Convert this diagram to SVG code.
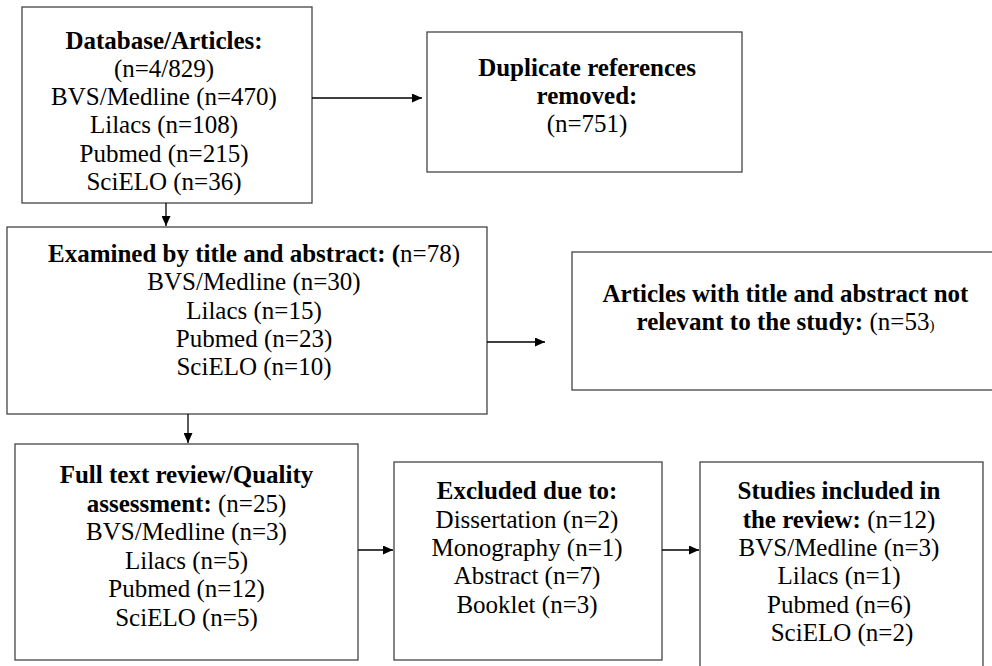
<svg xmlns="http://www.w3.org/2000/svg" width="992" height="666" viewBox="0 0 992 666">
<defs>
<marker id="ah" markerUnits="userSpaceOnUse" markerWidth="10" markerHeight="9" refX="10" refY="4.5" orient="auto">
<path d="M0,0 L10,4.5 L0,9 z" fill="#000"/>
</marker>
<style>
.box{fill:#fff;stroke:#444;stroke-width:1.3}
text{font-family:"Liberation Serif","Times New Roman","DejaVu Serif",serif;font-size:25px;fill:#000;text-anchor:middle}
.b{font-weight:bold}
.c{stroke:#000;stroke-width:1.3;fill:none;marker-end:url(#ah)}
</style>
</defs>
<rect width="992" height="666" fill="#fff"/>
<g id="n1">
<rect class="box" x="22" y="7" width="290" height="196"/>
<text x="164" y="48.5" class="b">Database/Articles:</text>
<text x="164" y="76.8">(n=4/829)</text>
<text x="164" y="105.1">BVS/Medline (n=470)</text>
<text x="164" y="133.4">Lilacs (n=108)</text>
<text x="164" y="161.7">Pubmed (n=215)</text>
<text x="164" y="190">SciELO (n=36)</text>
</g>
<g id="n2">
<rect class="box" x="427" y="32" width="315" height="140"/>
<text x="587" y="76" class="b">Duplicate references</text>
<text x="587" y="104" class="b">removed:</text>
<text x="587" y="132">(n=751)</text>
</g>
<g id="n3">
<rect class="box" x="7" y="227" width="480" height="187"/>
<text x="254" y="262"><tspan class="b">Examined by title and abstract: (</tspan>n=78)</text>
<text x="254" y="290.3">BVS/Medline (n=30)</text>
<text x="254" y="318.6">Lilacs (n=15)</text>
<text x="254" y="347">Pubmed (n=23)</text>
<text x="254" y="375.3">SciELO (n=10)</text>
</g>
<g id="n4">
<rect class="box" x="572" y="252" width="427" height="138"/>
<text x="785.5" y="301.5" class="b">Articles with title and abstract not</text>
<text x="785.5" y="330"><tspan class="b">relevant to the study: </tspan>(n=53<tspan font-size="15">)</tspan></text>
</g>
<g id="n5">
<rect class="box" x="15" y="444" width="343" height="216"/>
<text x="186.5" y="483" class="b">Full text review/Quality</text>
<text x="186.5" y="511.5"><tspan class="b">assessment: </tspan>(n=25)</text>
<text x="186.5" y="540">BVS/Medline (n=3)</text>
<text x="186.5" y="568.5">Lilacs (n=5)</text>
<text x="186.5" y="597">Pubmed (n=12)</text>
<text x="186.5" y="625.5">SciELO (n=5)</text>
</g>
<g id="n6">
<rect class="box" x="394" y="462" width="268" height="198"/>
<text x="527" y="499" class="b">Excluded due to:</text>
<text x="527" y="527.5">Dissertation (n=2)</text>
<text x="527" y="556">Monography (n=1)</text>
<text x="527" y="584">Abstract (n=7)</text>
<text x="527" y="612.5">Booklet (n=3)</text>
</g>
<g id="n7">
<rect class="box" x="700" y="462" width="283" height="215"/>
<text x="839" y="499" class="b">Studies included in</text>
<text x="839" y="527.5"><tspan class="b">the review: </tspan>(n=12)</text>
<text x="839" y="556">BVS/Medline (n=3)</text>
<text x="839" y="584">Lilacs (n=1)</text>
<text x="839" y="612.5">Pubmed (n=6)</text>
<text x="842" y="641">SciELO (n=2)</text>
</g>
<g id="connectors">
<line class="c" x1="312" y1="98" x2="422" y2="98"/>
<line class="c" x1="166" y1="203" x2="166" y2="226"/>
<line class="c" x1="487" y1="342" x2="545" y2="342"/>
<line class="c" x1="188" y1="414" x2="188" y2="443"/>
<line class="c" x1="358" y1="550" x2="393" y2="550"/>
<line class="c" x1="662" y1="550" x2="699" y2="550"/>
</g>
</svg>
